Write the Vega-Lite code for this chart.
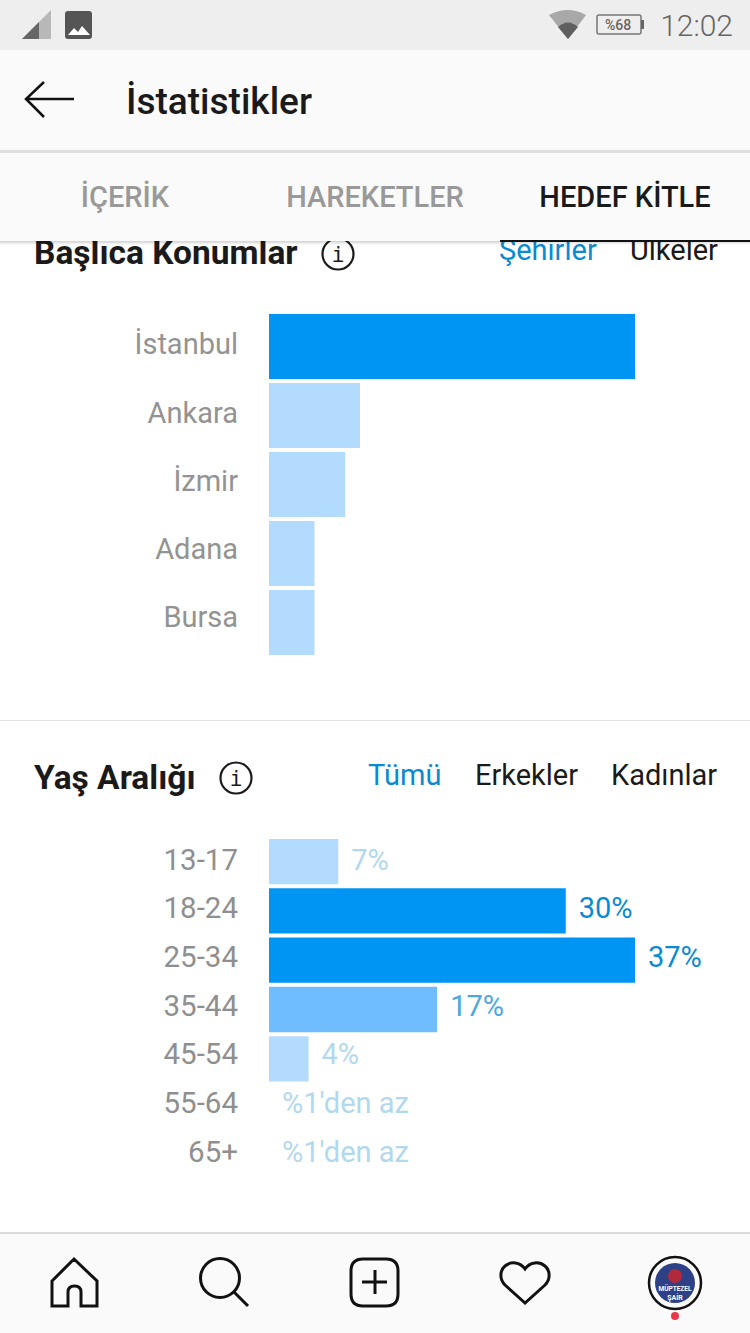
{
  "$schema": "https://vega.github.io/schema/vega-lite/v6.json",
  "width": 750,
  "height": 1333,
  "autosize": {"type": "fit", "contains": "padding"},
  "padding": 0,
  "background": "#ffffff",
  "config": {"view": {"stroke": null}, "text": {"font": "Roboto", "baseline": "alphabetic"}},
  "datasets": {
    "cities": [
      {"city": "İstanbul", "value": 37},
      {"city": "Ankara", "value": 9.2},
      {"city": "İzmir", "value": 7.7},
      {"city": "Adana", "value": 4.6},
      {"city": "Bursa", "value": 4.6}
    ],
    "ages": [
      {"age": "13-17", "value": 7, "label": "7%"},
      {"age": "18-24", "value": 30, "label": "30%"},
      {"age": "25-34", "value": 37, "label": "37%"},
      {"age": "35-44", "value": 17, "label": "17%"},
      {"age": "45-54", "value": 4, "label": "4%"},
      {"age": "55-64", "value": 0, "label": "%1'den az"},
      {"age": "65+", "value": 0, "label": "%1'den az"}
    ]
  },
  "data": {"values": [{"screen": "HEDEF KİTLE"}]},
  "resolve": {"scale": {"y": "independent", "color": "independent"}},
  "layer": [
    {
      "data": {"name": "cities"},
      "mark": {"type": "bar"},
      "encoding": {
        "x": {"field": "value", "type": "quantitative", "axis": null, "scale": {"domain": [0, 37], "range": [269, 635], "nice": false}},
        "y": {"field": "city", "type": "nominal", "axis": null, "sort": null, "scale": {"domain": ["İstanbul", "Ankara", "İzmir", "Adana", "Bursa"], "range": [314, 655], "paddingInner": 0.058, "paddingOuter": 0}},
        "color": {"field": "value", "type": "quantitative", "legend": null, "scale": {"type": "threshold", "domain": [10, 25], "range": ["#b3dbfd", "#6fbcff", "#0095f2"]}}
      }
    },
    {
      "data": {"name": "cities"},
      "mark": {"type": "text", "align": "right", "dx": -31, "dy": 6.2, "fontSize": 29, "color": "#939393"},
      "encoding": {
        "x": {"datum": 0, "type": "quantitative", "axis": null, "scale": {"domain": [0, 37], "range": [269, 635], "nice": false}},
        "y": {"field": "city", "type": "nominal", "axis": null, "sort": null, "scale": {"domain": ["İstanbul", "Ankara", "İzmir", "Adana", "Bursa"], "range": [314, 655], "paddingInner": 0.058, "paddingOuter": 0}},
        "text": {"field": "city"}
      }
    },
    {
      "data": {"name": "ages"},
      "mark": {"type": "bar"},
      "encoding": {
        "x": {"field": "value", "type": "quantitative", "axis": null, "scale": {"domain": [0, 37], "range": [269, 635], "nice": false}},
        "y": {"field": "age", "type": "nominal", "axis": null, "sort": null, "scale": {"domain": ["13-17", "18-24", "25-34", "35-44", "45-54", "55-64", "65+"], "range": [839, 1180], "paddingInner": 0.081, "paddingOuter": 0}},
        "color": {"field": "value", "type": "quantitative", "legend": null, "scale": {"type": "threshold", "domain": [10, 25], "range": ["#b3dbfd", "#6fbcff", "#0095f2"]}}
      }
    },
    {
      "data": {"name": "ages"},
      "mark": {"type": "text", "align": "right", "dx": -31, "dy": 6.2, "fontSize": 29.5, "color": "#8f8f8f"},
      "encoding": {
        "x": {"datum": 0, "type": "quantitative", "axis": null, "scale": {"domain": [0, 37], "range": [269, 635], "nice": false}},
        "y": {"field": "age", "type": "nominal", "axis": null, "sort": null, "scale": {"domain": ["13-17", "18-24", "25-34", "35-44", "45-54", "55-64", "65+"], "range": [839, 1180], "paddingInner": 0.081, "paddingOuter": 0}},
        "text": {"field": "age"}
      }
    },
    {
      "data": {"name": "ages"},
      "mark": {"type": "text", "align": "left", "dx": 13, "dy": 6.2, "fontSize": 29},
      "encoding": {
        "x": {"field": "value", "type": "quantitative", "axis": null, "scale": {"domain": [0, 37], "range": [269, 635], "nice": false}},
        "y": {"field": "age", "type": "nominal", "axis": null, "sort": null, "scale": {"domain": ["13-17", "18-24", "25-34", "35-44", "45-54", "55-64", "65+"], "range": [839, 1180], "paddingInner": 0.081, "paddingOuter": 0}},
        "text": {"field": "label"},
        "color": {"field": "value", "type": "quantitative", "legend": null, "scale": {"type": "threshold", "domain": [10, 25], "range": ["#b2d8ee", "#4aa8de", "#0a8ad2"]}}
      }
    },
    {
      "mark": {"type": "rect", "color": "#e3e3e3"},
      "encoding": {"x": {"value": 0}, "x2": {"value": 750}, "y": {"value": 720}, "y2": {"value": 721}}
    },
    {
      "mark": {"type": "text", "text": "Başlıca Konumlar", "align": "left", "fontSize": 33.5, "fontWeight": 700, "color": "#1a1a1a"},
      "encoding": {"x": {"value": 34}, "y": {"value": 264}}
    },
    {
      "mark": {"type": "text", "text": "Yaş Aralığı", "align": "left", "fontSize": 33.5, "fontWeight": 700, "color": "#1a1a1a"},
      "encoding": {"x": {"value": 34}, "y": {"value": 789}}
    },
    {
      "mark": {"type": "text", "text": "Şehirler", "align": "left", "fontSize": 29, "color": "#0a8ad2"},
      "encoding": {"x": {"value": 499}, "y": {"value": 260}}
    },
    {
      "mark": {"type": "text", "text": "Ülkeler", "align": "left", "fontSize": 29, "color": "#1a1a1a"},
      "encoding": {"x": {"value": 630}, "y": {"value": 260}}
    },
    {
      "mark": {"type": "text", "text": "Tümü", "align": "left", "fontSize": 29, "color": "#0a8ad2"},
      "encoding": {"x": {"value": 368}, "y": {"value": 785}}
    },
    {
      "mark": {"type": "text", "text": "Erkekler", "align": "left", "fontSize": 29, "color": "#1a1a1a"},
      "encoding": {"x": {"value": 475}, "y": {"value": 785}}
    },
    {
      "mark": {"type": "text", "text": "Kadınlar", "align": "left", "fontSize": 29, "color": "#1a1a1a"},
      "encoding": {"x": {"value": 611}, "y": {"value": 785}}
    },
    {
      "mark": {"type": "point", "shape": "circle", "size": 961, "filled": false, "stroke": "#1a1a1a", "strokeWidth": 2.2, "opacity": 1},
      "encoding": {"x": {"value": 338}, "y": {"value": 254}}
    },
    {
      "mark": {"type": "text", "text": "i", "font": "DejaVu Sans Mono", "align": "center", "fontSize": 21, "color": "#1a1a1a"},
      "encoding": {"x": {"value": 338}, "y": {"value": 262}}
    },
    {
      "mark": {"type": "point", "shape": "circle", "size": 961, "filled": false, "stroke": "#1a1a1a", "strokeWidth": 2.2, "opacity": 1},
      "encoding": {"x": {"value": 236}, "y": {"value": 778}}
    },
    {
      "mark": {"type": "text", "text": "i", "font": "DejaVu Sans Mono", "align": "center", "fontSize": 21, "color": "#1a1a1a"},
      "encoding": {"x": {"value": 236}, "y": {"value": 786}}
    },
    {
      "mark": {"type": "rect", "fill": {"gradient": "linear", "x1": 0, "y1": 0, "x2": 0, "y2": 1, "stops": [{"offset": 0, "color": "rgba(0,0,0,0.18)"}, {"offset": 1, "color": "rgba(0,0,0,0)"}]}},
      "encoding": {"x": {"value": 0}, "x2": {"value": 750}, "y": {"value": 241}, "y2": {"value": 245}}
    },
    {
      "mark": {"type": "rect", "color": "#eeeeee"},
      "encoding": {"x": {"value": 0}, "x2": {"value": 750}, "y": {"value": 0}, "y2": {"value": 50}}
    },
    {
      "mark": {"type": "rect", "color": "#fafafa"},
      "encoding": {"x": {"value": 0}, "x2": {"value": 750}, "y": {"value": 50}, "y2": {"value": 241}}
    },
    {
      "mark": {"type": "rect", "color": "#dedede"},
      "encoding": {"x": {"value": 0}, "x2": {"value": 750}, "y": {"value": 150}, "y2": {"value": 153}}
    },
    {
      "mark": {"type": "rect", "color": "#111111"},
      "encoding": {"x": {"value": 500}, "x2": {"value": 750}, "y": {"value": 240}, "y2": {"value": 242}}
    },
    {
      "mark": {"type": "text", "text": "İstatistikler", "align": "left", "fontSize": 37, "fontWeight": 500, "color": "#1a1a1a"},
      "encoding": {"x": {"value": 126}, "y": {"value": 114}}
    },
    {
      "mark": {"type": "text", "text": "İÇERİK", "align": "center", "fontSize": 29, "fontWeight": 500, "color": "#999999"},
      "encoding": {"x": {"value": 125}, "y": {"value": 207}}
    },
    {
      "mark": {"type": "text", "text": "HAREKETLER", "align": "center", "fontSize": 29, "fontWeight": 500, "color": "#999999"},
      "encoding": {"x": {"value": 375}, "y": {"value": 207}}
    },
    {
      "mark": {"type": "text", "text": "HEDEF KİTLE", "align": "center", "fontSize": 29, "fontWeight": 500, "color": "#1a1a1a"},
      "encoding": {"x": {"value": 625}, "y": {"value": 207}}
    },
    {
      "mark": {"type": "text", "text": "12:02", "align": "right", "fontSize": 30, "fontWeight": 300, "color": "#666666"},
      "encoding": {"x": {"value": 733}, "y": {"value": 36}}
    },
    {
      "mark": {"type": "text", "text": "%68", "align": "center", "fontSize": 14, "fontWeight": 500, "color": "#666666"},
      "encoding": {"x": {"value": 618}, "y": {"value": 30}}
    },
    {
      "mark": {"type": "point", "size": 4, "filled": true, "fill": "#b8b8b8", "opacity": 1, "shape": "M22 39L51 10L51 39Z"},
      "encoding": {"x": {"value": 0}, "y": {"value": 0}}
    },
    {
      "mark": {"type": "point", "size": 4, "filled": true, "fill": "#666666", "opacity": 1, "shape": "M22 39L39 22L39 39Z"},
      "encoding": {"x": {"value": 0}, "y": {"value": 0}}
    },
    {
      "mark": {"type": "point", "size": 4, "filled": true, "fill": "#555555", "opacity": 1, "shape": "M68 11L89 11Q92 11 92 14L92 36Q92 39 89 39L68 39Q65 39 65 36L65 14Q65 11 68 11Z"},
      "encoding": {"x": {"value": 0}, "y": {"value": 0}}
    },
    {
      "mark": {"type": "point", "size": 4, "filled": true, "fill": "#ffffff", "opacity": 1, "shape": "M68 35L74 28L78 32L82 26L90 35Z"},
      "encoding": {"x": {"value": 0}, "y": {"value": 0}}
    },
    {
      "mark": {"type": "point", "size": 4, "filled": true, "fill": "#a8a8a8", "opacity": 1, "shape": "M549 15Q568 5 586 15L568 39Z"},
      "encoding": {"x": {"value": 0}, "y": {"value": 0}}
    },
    {
      "mark": {"type": "point", "size": 4, "filled": true, "fill": "#5f5f5f", "opacity": 1, "shape": "M558 27Q568 18 578 27L568 39Z"},
      "encoding": {"x": {"value": 0}, "y": {"value": 0}}
    },
    {
      "mark": {"type": "point", "size": 4, "filled": false, "stroke": "#777777", "strokeWidth": 1.5, "opacity": 1, "shape": "M599 15L639 15Q641 15 641 17L641 32Q641 34 639 34L599 34Q597 34 597 32L597 17Q597 15 599 15Z"},
      "encoding": {"x": {"value": 0}, "y": {"value": 0}}
    },
    {
      "mark": {"type": "point", "size": 4, "filled": true, "fill": "#666666", "opacity": 1, "shape": "M641 20L644 20L644 29L641 29Z"},
      "encoding": {"x": {"value": 0}, "y": {"value": 0}}
    },
    {
      "mark": {"type": "point", "size": 4, "filled": false, "stroke": "#111111", "strokeWidth": 2.5, "opacity": 1, "shape": "M74 99L26 99M44 82L26 99L44 117"},
      "encoding": {"x": {"value": 0}, "y": {"value": 0}}
    },
    {
      "mark": {"type": "rect", "color": "#fafafa"},
      "encoding": {"x": {"value": 0}, "x2": {"value": 750}, "y": {"value": 1232}, "y2": {"value": 1333}}
    },
    {
      "mark": {"type": "rect", "color": "#dcdcdc"},
      "encoding": {"x": {"value": 0}, "x2": {"value": 750}, "y": {"value": 1232}, "y2": {"value": 1234}}
    },
    {
      "mark": {"type": "point", "size": 4, "filled": false, "stroke": "#111111", "strokeWidth": 3, "opacity": 1, "shape": "M74 1259L97 1281L97 1306L81 1306L81 1292Q81 1286 74.5 1286Q68 1286 68 1292L68 1306L52 1306L52 1281Z"},
      "encoding": {"x": {"value": 0}, "y": {"value": 0}}
    },
    {
      "mark": {"type": "point", "shape": "circle", "size": 1521, "filled": false, "stroke": "#111111", "strokeWidth": 3, "opacity": 1},
      "encoding": {"x": {"value": 220}, "y": {"value": 1278}}
    },
    {
      "mark": {"type": "point", "size": 4, "filled": false, "stroke": "#111111", "strokeWidth": 3, "opacity": 1, "shape": "M234 1292L248 1306"},
      "encoding": {"x": {"value": 0}, "y": {"value": 0}}
    },
    {
      "mark": {"type": "point", "size": 4, "filled": false, "stroke": "#111111", "strokeWidth": 3, "opacity": 1, "shape": "M363 1259L386 1259Q398 1259 398 1271L398 1294Q398 1306 386 1306L363 1306Q351 1306 351 1294L351 1271Q351 1259 363 1259ZM375 1270L375 1294M362 1282L387 1282"},
      "encoding": {"x": {"value": 0}, "y": {"value": 0}}
    },
    {
      "mark": {"type": "point", "size": 4, "filled": false, "stroke": "#111111", "strokeWidth": 3, "opacity": 1, "shape": "M525 1303L505 1285C499 1279 500 1270 505 1266C511 1261 520 1262 525 1269C530 1262 539 1261 545 1266C550 1270 551 1279 545 1285Z"},
      "encoding": {"x": {"value": 0}, "y": {"value": 0}}
    },
    {
      "mark": {"type": "point", "shape": "circle", "size": 2704, "filled": false, "stroke": "#111111", "strokeWidth": 2.5, "opacity": 1},
      "encoding": {"x": {"value": 675}, "y": {"value": 1283}}
    },
    {
      "mark": {"type": "point", "shape": "circle", "size": 1600, "filled": true, "fill": "#2f4186", "opacity": 1},
      "encoding": {"x": {"value": 675}, "y": {"value": 1283}}
    },
    {
      "mark": {"type": "point", "shape": "circle", "size": 196, "filled": true, "fill": "#b12a3c", "opacity": 1},
      "encoding": {"x": {"value": 675}, "y": {"value": 1276}}
    },
    {
      "mark": {"type": "text", "text": "MÜPTEZEL", "align": "center", "fontSize": 6.5, "fontWeight": 700, "color": "#ffffff"},
      "encoding": {"x": {"value": 675}, "y": {"value": 1291}}
    },
    {
      "mark": {"type": "text", "text": "ŞAİR", "align": "center", "fontSize": 7, "fontWeight": 700, "color": "#ffffff"},
      "encoding": {"x": {"value": 675}, "y": {"value": 1300}}
    },
    {
      "mark": {"type": "point", "shape": "circle", "size": 64, "filled": true, "fill": "#e8394a", "opacity": 1},
      "encoding": {"x": {"value": 675}, "y": {"value": 1316}}
    }
  ]
}
